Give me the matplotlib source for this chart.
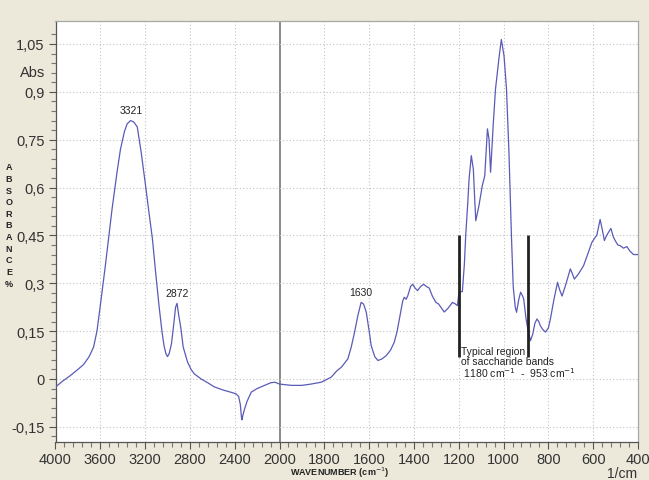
import numpy as np
import matplotlib
matplotlib.use("Agg")
import matplotlib.pyplot as plt
from matplotlib.ticker import FixedLocator, FuncFormatter

# ---- data ----
wavenumber = [4000, 3930, 3870, 3800, 3750, 3700, 3660, 3630, 3600, 3555, 3495, 3450, 3420, 3385,
              3360, 3330, 3300, 3270, 3235, 3196, 3165, 3135, 3105, 3076, 3050, 3031, 3015, 3000,
              2985, 2965, 2945, 2928, 2915, 2900, 2881, 2860, 2821, 2790, 2761, 2700, 2640, 2581,
              2500, 2420, 2387, 2365, 2350, 2340, 2335, 2328, 2312, 2290, 2252, 2200, 2132, 2080,
              2042, 2000, 1947, 1900, 1860, 1813, 1769, 1745, 1724, 1695, 1680, 1665, 1650, 1636,
              1625, 1613, 1600, 1591, 1575, 1561, 1545, 1524, 1505, 1488, 1475, 1465, 1450, 1443,
              1435, 1428, 1415, 1406, 1395, 1384, 1370, 1357, 1345, 1332, 1318, 1302, 1290, 1265,
              1250, 1228, 1215, 1206, 1199, 1184, 1175, 1169, 1160, 1154, 1144, 1135, 1128, 1124,
              1110, 1095, 1084, 1072, 1065, 1058, 1046, 1036, 1021, 1010, 998, 987, 976, 965, 957,
              948, 942, 932, 924, 915, 910, 900, 892, 880, 870, 860, 851, 843, 836, 825, 813, 800,
              791, 775, 759, 750, 739, 725, 702, 693, 684, 665, 643, 625, 606, 590, 584, 575, 569,
              560, 550, 540, 521, 510, 502, 490, 480, 465, 450, 435, 420, 400]
absorbance = [-0.025, -0.005, 0.01, 0.03, 0.045, 0.07, 0.10, 0.15, 0.23, 0.355, 0.533, 0.65, 0.72, 0.775,
              0.80, 0.81, 0.805, 0.79, 0.71, 0.606, 0.52, 0.44, 0.33, 0.23, 0.15, 0.104, 0.08, 0.07,
              0.08, 0.11, 0.17, 0.225, 0.237, 0.20, 0.16, 0.10, 0.053, 0.03, 0.016, 0.0, -0.012, -0.025,
              -0.035, -0.043, -0.047, -0.055, -0.08, -0.12, -0.128, -0.115, -0.094, -0.07, -0.041, -0.03, -0.02, -0.012,
              -0.01, -0.016, -0.02, -0.02, -0.016, -0.01, 0.006, 0.025, 0.037, 0.063, 0.10, 0.147, 0.20, 0.24,
              0.235, 0.21, 0.15, 0.105, 0.07, 0.058, 0.062, 0.073, 0.09, 0.115, 0.15, 0.188, 0.245, 0.256,
              0.25, 0.26, 0.29, 0.297, 0.285, 0.277, 0.29, 0.297, 0.29, 0.285, 0.26, 0.24, 0.235, 0.21,
              0.22, 0.24, 0.235, 0.23, 0.272, 0.274, 0.36, 0.45, 0.55, 0.627, 0.70, 0.658, 0.55, 0.496,
              0.543, 0.606, 0.637, 0.784, 0.752, 0.648, 0.80, 0.909, 1.003, 1.064, 1.013, 0.909, 0.71, 0.45, 0.29,
              0.225, 0.209, 0.25, 0.272, 0.26, 0.25, 0.19, 0.157, 0.12, 0.14, 0.175, 0.188, 0.18, 0.167, 0.155, 0.147, 0.16,
              0.188, 0.25, 0.303, 0.28, 0.26, 0.29, 0.345, 0.33, 0.313, 0.33, 0.355, 0.39, 0.428, 0.445, 0.45, 0.48, 0.50,
              0.47, 0.434, 0.45, 0.472, 0.445, 0.434, 0.42, 0.418, 0.41, 0.415, 0.40, 0.39, 0.39]

x_major = [4000, 3600, 3200, 2800, 2400, 2000, 1800, 1600, 1400, 1200, 1000, 800, 600, 400]
y_major = [1.05, 0.9, 0.75, 0.6, 0.45, 0.3, 0.15, 0.0, -0.15]

peak_labels = ["3321", "2872", "1630"]
peak_x = [3321, 2915, 1636]
peak_y = [0.81, 0.237, 0.24]

region_x = [1200, 893]
region_y = [0.45, 0.07]
region_text = "Typical region\nof saccharide bands\n 1180 cm$^{-1}$  -  953 cm$^{-1}$"

# ---- scale: 4000-2000 compressed, below 2000 expanded x2 ----
def fwd(w):
    w = np.asarray(w, dtype=float)
    return np.where(w >= 2000, w / 2.0 + 1000.0, w)

def inv(t):
    t = np.asarray(t, dtype=float)
    return np.where(t >= 2000, (t - 1000.0) * 2.0, t)

bg = "#ECE9DA"
fig = plt.figure(figsize=(6.49, 4.81), dpi=100, facecolor=bg)
ax = fig.add_axes([55.5 / 649, 1 - 443 / 481, (638 - 55.5) / 649, (443 - 22) / 481])
ax.set_facecolor("white")
ax.set_xscale("function", functions=(fwd, inv))
ax.set_xlim(4000, 400)
ax.set_ylim(-0.1975, 1.122)

# grid
for xv in x_major:
    if xv in (4000, 400):
        continue
    if xv == 2000:
        ax.axvline(xv, color="#808080", lw=1.3, zorder=1)
    else:
        ax.axvline(xv, color="#C2C2C2", lw=0.8, ls=(0, (1, 2)), zorder=1)
for yv in y_major:
    ax.axhline(yv, color="#C2C2C2", lw=0.8, ls=(0, (1, 2)), zorder=1)

ax.plot(wavenumber, absorbance, color="#5A5AB8", lw=0.9, zorder=3)

# ticks
ax.xaxis.set_major_locator(FixedLocator(x_major))
minor_x = list(np.arange(4000, 2000, -80)) + list(np.arange(2000, 399, -40))
ax.xaxis.set_minor_locator(FixedLocator(minor_x))
ax.xaxis.set_major_formatter(FuncFormatter(lambda v, p: f"{int(round(v))}"))
ax.yaxis.set_major_locator(FixedLocator(y_major))
ax.yaxis.set_minor_locator(FixedLocator(np.arange(-0.18, 1.11, 0.03)))
ax.yaxis.set_major_formatter(FuncFormatter(
    lambda v, p: "0" if abs(v) < 1e-9 else (f"{v:.2f}".rstrip("0").replace(".", ","))))

for lab in ax.get_xticklabels() + ax.get_yticklabels():
    lab.set_fontfamily("Liberation Sans")
    lab.set_fontsize(10.5)
    lab.set_color("#333333")
ax.tick_params(axis="both", which="major", direction="out", length=5, width=0.8, color="#555555", pad=3)
ax.tick_params(axis="both", which="minor", direction="out", length=3.5, width=0.8, color="#777777")
ax.tick_params(axis="x", which="major", pad=2)

for s in ["left", "bottom"]:
    ax.spines[s].set_color("#555555")
    ax.spines[s].set_linewidth(0.9)
for s in ["top", "right"]:
    ax.spines[s].set_color("#A8A8A8")
    ax.spines[s].set_linewidth(0.9)

# axis texts
fig.text(45 / 649, 1 - 73 / 481, "Abs", ha="right", va="center", fontsize=10.5,
         family="Liberation Sans", color="#333333")
fig.text(9 / 649, 1 - 226 / 481, "A\nB\nS\nO\nR\nB\nA\nN\nC\nE\n%", ha="center", va="center",
         fontsize=6.5, fontweight="bold", family="Liberation Sans", color="#222222", linespacing=1.38)
fig.text(340 / 649, 1 - 473 / 481, "WAVENUMBER (cm$^{-1}$)", ha="center", va="center",
         fontsize=6.5, fontweight="bold", family="Liberation Sans", color="#222222")
fig.text(622 / 649, 1 - 474 / 481, "1/cm", ha="center", va="center", fontsize=10,
         family="Liberation Sans", color="#333333")

# peak labels
for lab, px, py in zip(peak_labels, peak_x, peak_y):
    ax.annotate(lab, (px, py), xytext=(0, 4), textcoords="offset points", ha="center", va="bottom",
                fontsize=7.5, family="Liberation Sans", color="#222222")

# saccharide region markers
for rx in region_x:
    ax.plot([rx, rx], region_y, color="#222222", lw=2.0, solid_capstyle="butt", zorder=4)
ax.text(1192, 0.102, region_text, ha="left", va="top", fontsize=7.5, family="Liberation Sans",
        color="#222222", linespacing=0.95, zorder=5)

fig.savefig("out.png", dpi=100, facecolor=bg)
